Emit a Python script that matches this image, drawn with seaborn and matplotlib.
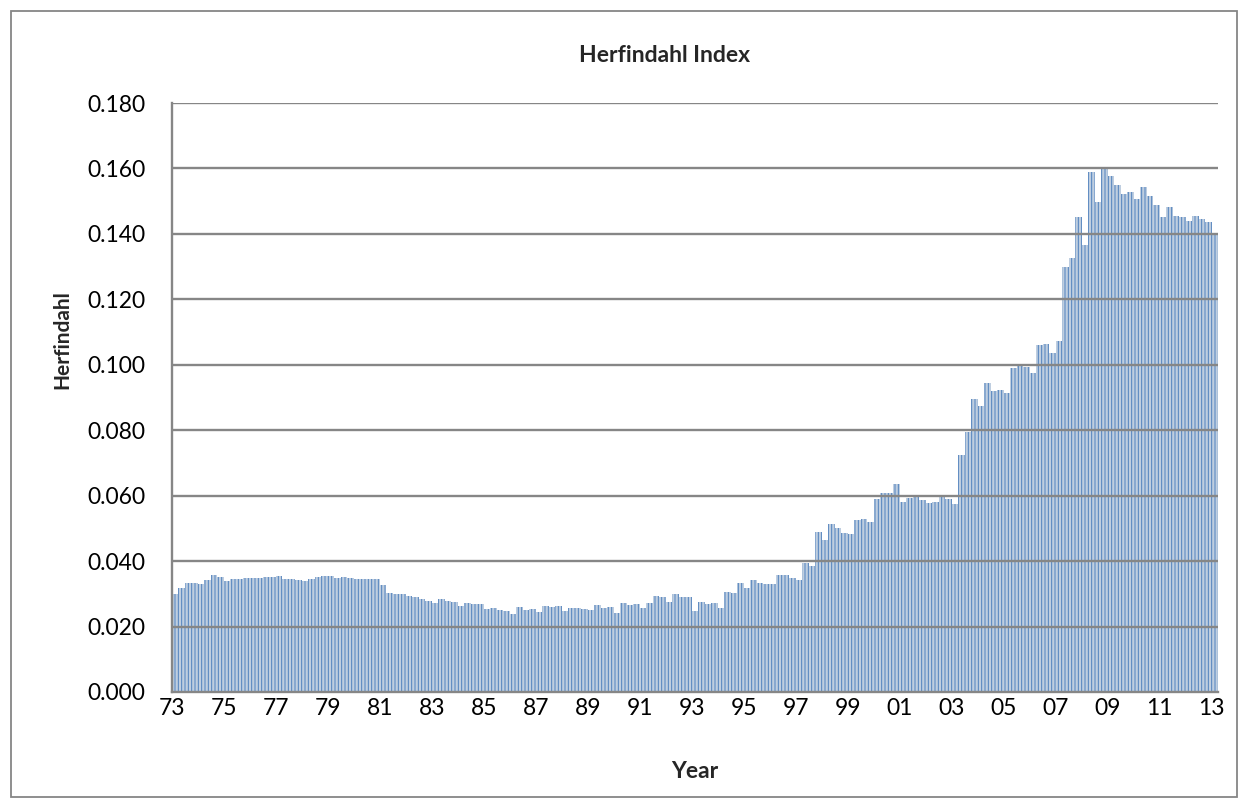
import matplotlib
matplotlib.use("Agg")
import matplotlib.pyplot as plt
import seaborn as sns
import numpy as np
import pandas as pd
from matplotlib.patches import Rectangle

# ---- data (quarterly, 1973Q1 .. 2013Q1) ----
start_year = 1973
herfindahl = [
    0.0300, 0.0317, 0.0334, 0.0333,   # 73
    0.0330, 0.0342, 0.0358, 0.0350,   # 74
    0.0340, 0.0344, 0.0346, 0.0347,   # 75
    0.0347, 0.0349, 0.0350, 0.0352,   # 76
    0.0356, 0.0344, 0.0344, 0.0342,   # 77
    0.0339, 0.0345, 0.0350, 0.0355,   # 78
    0.0353, 0.0349, 0.0350, 0.0347,   # 79
    0.0345, 0.0345, 0.0344, 0.0344,   # 80
    0.0327, 0.0302, 0.0300, 0.0300,   # 81
    0.0294, 0.0289, 0.0283, 0.0278,   # 82
    0.0271, 0.0285, 0.0278, 0.0275,   # 83
    0.0263, 0.0273, 0.0268, 0.0268,   # 84
    0.0253, 0.0258, 0.0251, 0.0248,   # 85
    0.0237, 0.0259, 0.0251, 0.0253,   # 86
    0.0244, 0.0264, 0.0261, 0.0263,   # 87
    0.0247, 0.0258, 0.0256, 0.0253,   # 88
    0.0250, 0.0265, 0.0257, 0.0259,   # 89
    0.0241, 0.0271, 0.0266, 0.0268,   # 90
    0.0257, 0.0272, 0.0293, 0.0289,   # 91
    0.0275, 0.0298, 0.0289, 0.0289,   # 92
    0.0248, 0.0274, 0.0268, 0.0271,   # 93
    0.0258, 0.0306, 0.0303, 0.0332,   # 94
    0.0317, 0.0342, 0.0332, 0.0330,   # 95
    0.0330, 0.0358, 0.0358, 0.0349,   # 96
    0.0342, 0.0395, 0.0385, 0.0488,   # 97
    0.0464, 0.0512, 0.0500, 0.0487,   # 98
    0.0483, 0.0526, 0.0528, 0.0520,   # 99
    0.0590, 0.0609, 0.0607, 0.0635,   # 00
    0.0582, 0.0592, 0.0595, 0.0587,   # 01
    0.0579, 0.0580, 0.0601, 0.0589,   # 02
    0.0575, 0.0725, 0.0796, 0.0894,   # 03
    0.0874, 0.0943, 0.0919, 0.0922,   # 04
    0.0914, 0.0990, 0.1001, 0.0993,   # 05
    0.0975, 0.1061, 0.1062, 0.1037,   # 06
    0.1072, 0.1298, 0.1327, 0.1453,   # 07
    0.1365, 0.1589, 0.1497, 0.1602,   # 08
    0.1576, 0.1548, 0.1521, 0.1527,   # 09
    0.1508, 0.1542, 0.1516, 0.1489,   # 10
    0.1453, 0.1482, 0.1455, 0.1453,   # 11
    0.1440, 0.1455, 0.1444, 0.1436,   # 12
    0.1398,                           # 13
]
tick_years = list(range(1973, 2014, 2))
tick_labels = ["73", "75", "77", "79", "81", "83", "85", "87", "89", "91", "93",
               "95", "97", "99", "01", "03", "05", "07", "09", "11", "13"]
y_ticks = [0.000, 0.020, 0.040, 0.060, 0.080, 0.100, 0.120, 0.140, 0.160, 0.180]

# quarter midpoints in year units
n = len(herfindahl)
x_pos = [start_year + (i + 0.5) / 4.0 for i in range(n)]
df = pd.DataFrame({"t": x_pos, "h": herfindahl})

sns.set_theme(style="white")
plt.rcParams["font.family"] = ["Lato", "DejaVu Sans"]
plt.rcParams["hatch.linewidth"] = 0.7

W, H = 1248, 808
fig = plt.figure(figsize=(W / 100, H / 100), dpi=100)
ax = fig.add_axes([172 / W, 1 - 692 / H, (1218 - 172) / W, (692 - 103) / H])

sns.barplot(data=df, x="t", y="h", native_scale=True, width=1.0,
            color="#B9CDE5", edgecolor="#4F81BD", linewidth=0,
            hatch="|||||", ax=ax, zorder=1)

ax.set_xlim(start_year, start_year + n / 4.0)
ax.set_ylim(0, 0.180)
ax.set_yticks(y_ticks)
ax.set_yticklabels([f"{v:.3f}" for v in y_ticks], fontsize=16.5)
ax.set_xticks(tick_years)
ax.set_xticklabels(tick_labels, fontsize=16.5)
ax.tick_params(axis="y", length=0, pad=19, colors="black")
ax.tick_params(axis="x", length=0, pad=4, colors="black")

for v in y_ticks[1:]:
    ax.axhline(v, color="#868686", linewidth=1.7, zorder=3)

for s in ["top", "right"]:
    ax.spines[s].set_visible(False)
for s in ["left", "bottom"]:
    ax.spines[s].set_color("#868686")
    ax.spines[s].set_linewidth(1.7)
    ax.spines[s].set_zorder(4)

ax.set_xlabel("")
ax.set_ylabel("")
fig.text(695 / W, 1 - 771 / H, "Year", ha="center", va="center",
         fontsize=16.5, fontweight="bold")
fig.text(62 / W, 1 - 340 / H, "Herfindahl", ha="center", va="center",
         rotation=90, fontsize=15, fontweight="bold")
fig.text(665 / W, 1 - 55 / H, "Herfindahl Index",
         ha="center", va="center", fontsize=16.5, fontweight="bold")

fig.patches.append(Rectangle((11 / W, 1 - 797 / H), (1237 - 11) / W, (797 - 11) / H,
                             transform=fig.transFigure, fill=False,
                             edgecolor="#868686", linewidth=1.3))

fig.savefig("out.png", dpi=100, facecolor="white")
